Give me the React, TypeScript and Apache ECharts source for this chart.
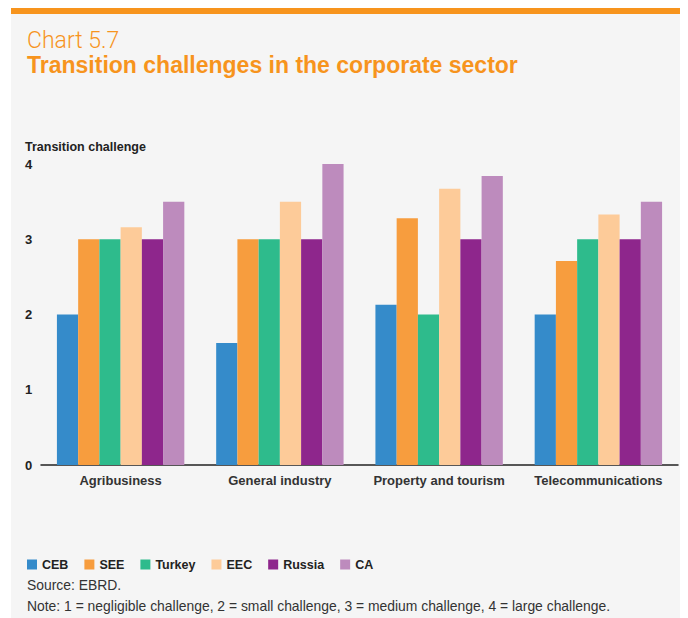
import React, { useEffect, useRef } from "react";
import * as echarts from "echarts";

const categories = ["Agribusiness", "General industry", "Property and tourism", "Telecommunications"];
const seriesNames = ["CEB", "SEE", "Turkey", "EEC", "Russia", "CA"];
const ceb = [2, 1.62, 2.13, 2];
const see = [3, 3, 3.28, 2.71];
const turkey = [3, 3, 2, 3];
const eec = [3.16, 3.5, 3.67, 3.33];
const russia = [3, 3, 3, 3];
const ca = [3.5, 4, 3.84, 3.5];
const seriesValues = [ceb, see, turkey, eec, russia, ca];
const colors = ["#358bca", "#f79d3e", "#2ebb8c", "#fdcb99", "#8e268c", "#bd8bbd"];
const yTicks = { min: 0, max: 4, interval: 1 };

const titleText = "Chart 5.7";
const subtitleText = "Transition challenges in the corporate sector";
const yAxisTitle = "Transition challenge";
const sourceText = "Source: EBRD.";
const noteText = "Note: 1 = negligible challenge, 2 = small challenge, 3 = medium challenge, 4 = large challenge.";

export default function App() {
  const ref = useRef<HTMLDivElement>(null);
  useEffect(() => {
    if (!ref.current) return;
    const chart = echarts.init(ref.current, undefined, { renderer: "svg" });
    const sans = "'Liberation Sans', Arial, sans-serif";
    chart.setOption({
      animation: false,
      backgroundColor: "transparent",
      graphic: [
        { type: "rect", z: -10, shape: { x: 3, y: 0, width: 677, height: 610 }, style: { fill: "#f5f5f5" } },
        { type: "rect", z: -9, shape: { x: 3, y: 0, width: 677, height: 6 }, style: { fill: "#f7941d" } },
        {
          type: "text", left: 19, top: 21,
          style: { text: titleText, fill: "#f7941d", font: "300 23px Roboto, 'Liberation Sans', sans-serif" },
        },
        {
          type: "text", left: 19, top: 45,
          style: { text: subtitleText, fill: "#f7941d", font: "bold 23px " + sans },
        },
        {
          type: "text", left: 17, top: 132,
          style: { text: yAxisTitle, fill: "#222", font: "bold 12.5px " + sans },
        },
        {
          type: "text", left: 19, top: 570,
          style: { text: sourceText, fill: "#333", font: "13.9px " + sans },
        },
        {
          type: "text", left: 19, top: 591,
          style: { text: noteText, fill: "#333", font: "13.9px " + sans },
        },
      ],
      color: colors,
      legend: {
        left: 19,
        top: 550,
        padding: 0,
        icon: "rect",
        itemWidth: 10,
        itemHeight: 10,
        itemGap: 16,
        data: seriesNames,
        textStyle: { color: "#222", fontSize: 12.5, fontWeight: "bold", fontFamily: sans },
      },
      grid: { left: 33, right: 10, top: 156, bottom: 153, containLabel: false },
      xAxis: {
        type: "category",
        data: categories,
        axisLine: { lineStyle: { color: "#222", width: 1.5 } },
        axisTick: { show: false },
        axisLabel: {
          interval: 0, margin: 9, color: "#333", fontSize: 13, fontWeight: "bold",
          fontFamily: sans,
        },
      },
      yAxis: {
        type: "value",
        min: yTicks.min,
        max: yTicks.max,
        interval: yTicks.interval,
        splitLine: { show: false },
        axisLine: { show: false },
        axisTick: { show: false },
        axisLabel: {
          align: "left", margin: 16, color: "#222", fontSize: 13, fontWeight: "bold",
          fontFamily: sans,
        },
      },
      series: seriesNames.map((name, i) => ({
        name,
        type: "bar",
        data: seriesValues[i],
        barGap: "0%",
        barCategoryGap: "20%",
        itemStyle: { color: colors[i] },
      })),
    });
    return () => chart.dispose();
  }, []);
  return <div ref={ref} style={{ width: 680, height: 610 }} />;
}
